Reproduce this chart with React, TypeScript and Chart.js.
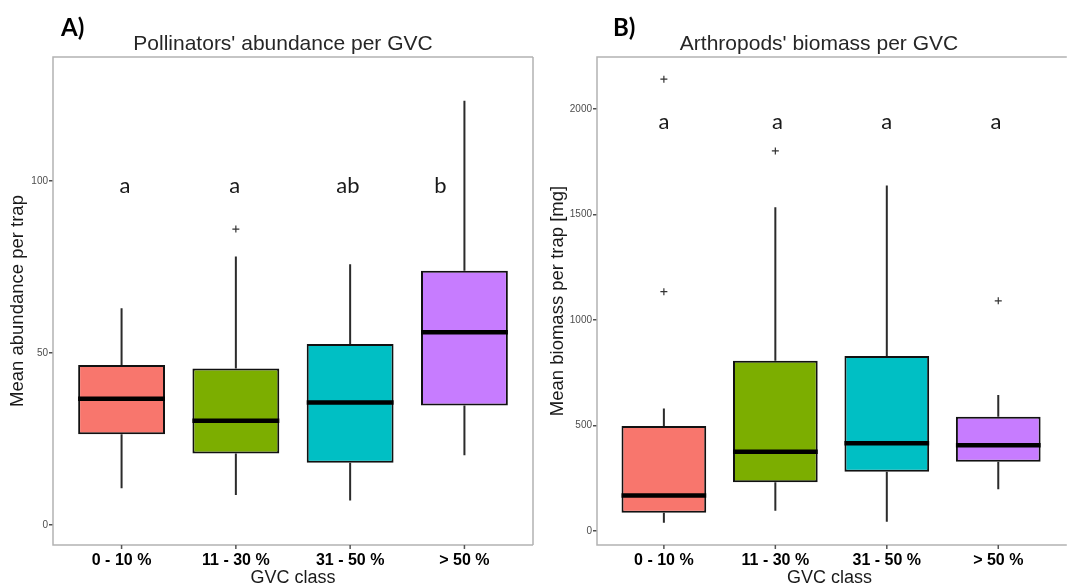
import { useEffect, useRef } from "react";
import { Chart, registerables } from "chart.js";
Chart.register(...registerables);

const categories = ["0 - 10 %", "11 - 30 %", "31 - 50 %", "> 50 %"];
const boxColors = ["#F8766D", "#7CAE00", "#00BFC4", "#C77CFF"];
const xTicks = [0, 1, 2, 3];

// Panel A: Pollinators' abundance
const aLow = [10.7, 8.7, 7.1, 20.3];
const aQ1 = [26.4, 20.8, 18.1, 34.7];
const aMedian = [36.7, 30.3, 35.6, 56.0];
const aQ3 = [46.5, 45.5, 52.6, 73.9];
const aHigh = [63.0, 78.0, 75.8, 123.3];
const aOutX = [1];
const aOutY = [86.0];
const aLetters = ["a", "a", "ab", "b"];
const aLetterX = [0.03, 0.99, 1.98, 2.79];
const aLetterY = 96.6;
const aTicks = [0, 50, 100];

// Panel B: Arthropods' biomass
const bLow = [39, 96, 44, 198];
const bQ1 = [87, 231, 281, 328];
const bMedian = [169, 376, 416, 406];
const bQ3 = [498, 807, 829, 542];
const bHigh = [581, 1534, 1637, 645];
const bOutX = [0, 0, 1, 3];
const bOutY = [1134, 2141, 1801, 1091];
const bLetters = ["a", "a", "a", "a"];
const bLetterX = [0, 1.02, 2, 2.98];
const bLetterY = 1905;
const bTicks = [0, 500, 1000, 1500, 2000];

type PanelCfg = {
  low: number[]; q1: number[]; median: number[]; q3: number[]; high: number[];
  outX: number[]; outY: number[];
  letters: string[]; letterX: number[]; letterY: number;
  yTicks: number[]; yMin: number; yMax: number; xMin: number; xMax: number;
  yTitle: string; title: string; panel: string;
  titleX: number; panelX: number; yWidth: number; padRight: number; drawRight: boolean;
  width: number;
};

const panelA: PanelCfg = {
  low: aLow, q1: aQ1, median: aMedian, q3: aQ3, high: aHigh,
  outX: aOutX, outY: aOutY, letters: aLetters, letterX: aLetterX, letterY: aLetterY,
  yTicks: aTicks, yMin: -5.8, yMax: 136, xMin: -0.6, xMax: 3.6,
  yTitle: "Mean abundance per trap", title: "Pollinators' abundance per GVC", panel: "A)",
  titleX: 283, panelX: 61, yWidth: 53, padRight: 7, drawRight: true, width: 540,
};

const panelB: PanelCfg = {
  low: bLow, q1: bQ1, median: bMedian, q3: bQ3, high: bHigh,
  outX: bOutX, outY: bOutY, letters: bLetters, letterX: bLetterX, letterY: bLetterY,
  yTicks: bTicks, yMin: -66, yMax: 2246, xMin: -0.6, xMax: 3.57,
  yTitle: "Mean biomass per trap [mg]", title: "Arthropods' biomass per GVC", panel: "B)",
  titleX: 279, panelX: 73, yWidth: 57, padRight: 0, drawRight: false, width: 527,
};

function makePlugin(cfg: PanelCfg) {
  return {
    id: "boxExtras",
    beforeDatasetsDraw(chart: any) {
      const { ctx, scales } = chart;
      const x = scales.x, y = scales.y;
      ctx.save();
      ctx.strokeStyle = "#2b2b2b";
      ctx.lineWidth = 2;
      cfg.low.forEach((lo, i) => {
        const px = x.getPixelForValue(i);
        ctx.beginPath();
        ctx.moveTo(px, y.getPixelForValue(lo));
        ctx.lineTo(px, y.getPixelForValue(cfg.q1[i]));
        ctx.moveTo(px, y.getPixelForValue(cfg.q3[i]));
        ctx.lineTo(px, y.getPixelForValue(cfg.high[i]));
        ctx.stroke();
      });
      ctx.restore();
    },
    afterDatasetsDraw(chart: any) {
      const { ctx, scales } = chart;
      const x = scales.x, y = scales.y;
      const meta = chart.getDatasetMeta(0);
      ctx.save();
      ctx.strokeStyle = "#000000";
      ctx.lineWidth = 4.5;
      meta.data.forEach((bar: any, i: number) => {
        const { x: cx, width } = bar.getProps(["x", "width"], true);
        const py = y.getPixelForValue(cfg.median[i]);
        ctx.beginPath();
        ctx.moveTo(cx - width / 2, py);
        ctx.lineTo(cx + width / 2, py);
        ctx.stroke();
      });
      // significance letters
      ctx.fillStyle = "#1a1a1a";
      ctx.font = "22px Lato";
      ctx.textAlign = "center";
      ctx.textBaseline = "alphabetic";
      cfg.letters.forEach((t, i) => {
        ctx.fillText(t, x.getPixelForValue(cfg.letterX[i]), y.getPixelForValue(cfg.letterY));
      });
      // frame
      const a = chart.chartArea;
      ctx.strokeStyle = "#b3b3b3";
      ctx.lineWidth = 1.5;
      ctx.beginPath();
      ctx.moveTo(a.right + (cfg.drawRight ? 0 : 5), a.top);
      ctx.lineTo(a.left, a.top);
      ctx.lineTo(a.left, a.bottom);
      ctx.lineTo(a.right + (cfg.drawRight ? 0 : 5), a.bottom);
      if (cfg.drawRight) {
        ctx.moveTo(a.right, a.top);
        ctx.lineTo(a.right, a.bottom);
      }
      ctx.stroke();
      // x-axis tick marks
      ctx.strokeStyle = "#555555";
      ctx.lineWidth = 1.5;
      ctx.beginPath();
      xTicks.forEach((v) => {
        const px = x.getPixelForValue(v);
        ctx.moveTo(px, a.bottom);
        ctx.lineTo(px, a.bottom + 4);
      });
      ctx.stroke();
      // titles
      ctx.fillStyle = "#262626";
      ctx.font = "21px 'Liberation Sans'";
      ctx.textAlign = "center";
      ctx.fillText(cfg.title, cfg.titleX, 50);
      ctx.fillStyle = "#000000";
      ctx.font = "bold 24px Lato";
      ctx.textAlign = "left";
      ctx.fillText(cfg.panel, cfg.panelX, 36);
      ctx.restore();
    },
  };
}

function buildChart(canvas: HTMLCanvasElement, cfg: PanelCfg) {
  return new Chart(canvas, {
    type: "bar",
    data: {
      datasets: [
        {
          type: "bar",
          data: categories.map((_, i) => ({ x: i, y: [cfg.q1[i], cfg.q3[i]] })) as any,
          backgroundColor: boxColors,
          borderColor: "#111111",
          borderWidth: 2,
          borderSkipped: false,
          barPercentage: 0.76,
          categoryPercentage: 1,
        } as any,
        {
          type: "scatter",
          data: cfg.outX.map((xv, i) => ({ x: xv, y: cfg.outY[i] })),
          pointStyle: "cross",
          radius: 3.5,
          borderColor: "#333333",
          borderWidth: 1.2,
        } as any,
      ],
    },
    options: {
      responsive: false,
      maintainAspectRatio: false,
      animation: false,
      events: [],
      layout: { padding: { top: 57, right: cfg.padRight, bottom: 0, left: 0 } },
      plugins: { legend: { display: false }, tooltip: { enabled: false }, title: { display: false } },
      scales: {
        x: {
          type: "linear",
          offset: false,
          min: cfg.xMin,
          max: cfg.xMax,
          afterBuildTicks: (s: any) => { s.ticks = xTicks.map((v) => ({ value: v })); },
          afterFit: (s: any) => { s.height = 42; },
          grid: { display: false, drawTicks: true, tickLength: 4 },
          border: { display: false },
          ticks: {
            padding: 2,
            color: "#000000",
            font: { family: "'Liberation Sans'", size: 16, weight: "bold" },
            callback: (v: any) => categories[v as number] ?? "",
            maxRotation: 0,
            autoSkip: false,
          },
          title: {
            display: true,
            text: "GVC class",
            color: "#1a1a1a",
            font: { family: "'Liberation Sans'", size: 18 },
            padding: { top: 0, bottom: -2 },
          },
        },
        y: {
          type: "linear",
          min: cfg.yMin,
          max: cfg.yMax,
          afterBuildTicks: (s: any) => { s.ticks = cfg.yTicks.map((v) => ({ value: v })); },
          afterFit: (s: any) => { s.width = cfg.yWidth; },
          grid: { display: true, drawOnChartArea: false, drawTicks: true, tickLength: 4, color: "#4d4d4d", lineWidth: 1.5 },
          border: { display: false },
          ticks: {
            padding: 1,
            color: "#4d4d4d",
            font: { family: "'Liberation Sans'", size: 10 },
            callback: (v: any) => String(v),
          },
          title: {
            display: true,
            text: cfg.yTitle,
            color: "#1a1a1a",
            font: { family: "'Liberation Sans'", size: 18.5 },
            padding: { top: 7, bottom: 0 },
          },
        },
      },
    },
    plugins: [makePlugin(cfg)],
  } as any);
}

function Panel({ cfg, left }: { cfg: PanelCfg; left: number }) {
  const ref = useRef<HTMLCanvasElement | null>(null);
  useEffect(() => {
    if (!ref.current) return;
    const chart = buildChart(ref.current, cfg);
    return () => chart.destroy();
  }, [cfg]);
  return (
    <canvas
      ref={ref}
      width={cfg.width}
      height={587}
      style={{ position: "absolute", left, top: 0, width: cfg.width, height: 587 }}
    />
  );
}

export default function App() {
  return (
    <div style={{ position: "absolute", left: 0, top: 0, width: 1067, height: 587, background: "#ffffff", overflow: "hidden" }}>
      <Panel cfg={panelA} left={0} />
      <Panel cfg={panelB} left={540} />
    </div>
  );
}
